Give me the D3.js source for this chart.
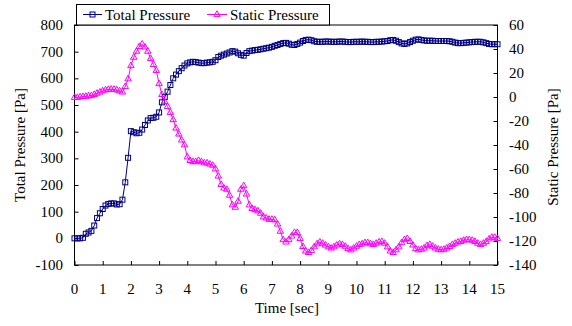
<!DOCTYPE html>
<html>
<head>
<meta charset="utf-8">
<script src="https://cdn.jsdelivr.net/npm/d3@7"></script>
<style>
  body { margin: 0; background: #fff; }
  svg text { font-family: "Liberation Serif", "Times New Roman", Times, serif; font-size: 15px; fill: #000; }
</style>
</head>
<body>
<div class="viz"></div>
<script>
// samples every 0.1 s from 0 to 15 s
const timeStep = 0.1;

const totalPressure = [
  0, 0, 0, 2, 17, 22, 28, 48, 76, 94,
  110, 123, 129, 131, 131, 127, 128, 145, 210, 302,
  402, 398, 394, 396, 408, 425, 442, 451, 452, 456,
  472, 510, 530, 550, 575, 600, 614, 627, 638, 648,
  656, 660, 662, 661, 659, 657, 657, 659, 660, 662,
  668, 680, 685, 689, 693, 697, 702, 700, 694, 688,
  685, 695, 702, 704, 706, 707, 709, 711, 713, 715,
  718, 722, 725, 729, 732, 733, 730, 726, 725, 729,
  734, 740, 744, 745, 743, 739, 737, 737, 737, 738,
  738, 737, 737, 737, 738, 738, 737, 736, 736, 737,
  737, 737, 738, 737, 737, 736, 736, 737, 737, 738,
  739, 740, 743, 744, 741, 736, 731, 729, 731, 736,
  741, 745, 746, 744, 742, 741, 741, 741, 740, 740,
  740, 740, 740, 739, 737, 734, 732, 732, 733, 734,
  735, 736, 737, 737, 737, 735, 732, 729, 728, 728,
  728
];

const staticPressure = [
  -0.5, -0.5, 0, 0.3, 0.5, 0.8, 1, 2, 3, 4,
  5, 5.8, 6.2, 6.4, 6.3, 5.8, 5, 4, 8.6, 15,
  26, 33, 38, 42, 44, 41.5, 38, 32, 27, 22,
  11, 2, -4, -8, -13, -19, -26, -31, -36, -40,
  -50, -53, -54, -54, -53, -54, -55, -55, -56, -57,
  -60, -66, -73, -76, -77, -82, -90, -92, -87, -77,
  -74, -81, -90, -93, -94, -95, -97, -100, -101, -102,
  -102, -102.5, -106, -112, -119, -121, -119, -116, -113, -113,
  -118, -124.7, -128.5, -129.7, -128, -125, -122.5, -121, -122, -123.5,
  -125, -126, -125, -123.5, -122.5, -123, -124.5, -126.5, -127.5, -126,
  -124.5, -123, -122.5, -121.5, -121.5, -122.5, -123, -122, -121, -120.6,
  -122, -125, -128.5, -129.7, -127.5, -125, -121.5, -119, -118, -120.5,
  -123.5, -126.5, -127.5, -127, -126, -124, -123, -124.5, -126, -127,
  -127.5, -127, -126, -124.7, -123, -122, -121, -120.5, -119.5, -119,
  -119, -119.5, -120.5, -122, -123, -122, -120.6, -118.5, -117, -117,
  -118
];

const xTicks = d3.range(0, 16);
const leftTicks = [-100, 0, 100, 200, 300, 400, 500, 600, 700, 800];
const rightTicks = [-140, -120, -100, -80, -60, -40, -20, 0, 20, 40, 60];

const width = 572, height = 326;
const margin = { top: 25, right: 74.5, bottom: 61, left: 74.5 };
const innerW = width - margin.left - margin.right,
      innerH = height - margin.top - margin.bottom;

const svg = d3.select('.viz').append('svg')
    .attr('width', width)
    .attr('height', height);

const x = d3.scaleLinear().domain([0, 15]).range([margin.left, margin.left + innerW]);
const yL = d3.scaleLinear().domain([-100, 800]).range([margin.top + innerH, margin.top]);
const yR = d3.scaleLinear().domain([-140, 60]).range([margin.top + innerH, margin.top]);

// plot frame
svg.append('rect')
    .attr('x', margin.left)
    .attr('y', margin.top)
    .attr('width', innerW)
    .attr('height', innerH)
    .attr('fill', 'none')
    .attr('stroke', '#000')
    .attr('stroke-width', 1);

// axes, ticks pointing inward
const xAxis = svg.append('g')
    .attr('transform', 'translate(0,' + (margin.top + innerH) + ')')
    .call(d3.axisTop(x).tickValues(xTicks).tickSize(4).tickFormat(''));
xAxis.select('.domain').remove();

svg.append('g').selectAll('text')
    .data(xTicks)
    .enter().append('text')
    .attr('x', d => x(d))
    .attr('y', 294)
    .attr('text-anchor', 'middle')
    .text(d => d);

const leftAxis = svg.append('g')
    .attr('transform', 'translate(' + margin.left + ',0)')
    .call(d3.axisRight(yL).tickValues(leftTicks).tickSize(4).tickFormat(''));
leftAxis.select('.domain').remove();

svg.append('g').selectAll('text')
    .data(leftTicks)
    .enter().append('text')
    .attr('x', 63)
    .attr('y', d => yL(d) + 5)
    .attr('text-anchor', 'end')
    .text(d => d);

const rightAxis = svg.append('g')
    .attr('transform', 'translate(' + (margin.left + innerW) + ',0)')
    .call(d3.axisLeft(yR).tickValues(rightTicks).tickSize(4).tickFormat(''));
rightAxis.select('.domain').remove();

svg.append('g').selectAll('text')
    .data(rightTicks)
    .enter().append('text')
    .attr('x', 509)
    .attr('y', d => yR(d) + 5)
    .attr('text-anchor', 'start')
    .text(d => d);

svg.selectAll('.tick line').attr('stroke', '#000');

// axis titles
svg.append('text')
    .attr('transform', 'translate(25,145) rotate(-90)')
    .attr('text-anchor', 'middle')
    .text('Total Pressure [Pa]');

svg.append('text')
    .attr('transform', 'translate(558,147) rotate(-90)')
    .attr('text-anchor', 'middle')
    .text('Static Pressure [Pa]');

svg.append('text')
    .attr('x', 287)
    .attr('y', 313)
    .attr('text-anchor', 'middle')
    .text('Time [sec]');

// series
const totalColor = '#000080', staticColor = '#FF00FF';

const totalLine = d3.line()
    .x((d, i) => x(i * timeStep))
    .y(d => yL(d));

const staticLine = d3.line()
    .x((d, i) => x(i * timeStep))
    .y(d => yR(d));

const tri = d3.symbol().type(d3.symbolTriangle).size(18);

function drawTotal(){
    svg.append('path')
        .datum(totalPressure)
        .attr('d', totalLine)
        .attr('fill', 'none')
        .attr('stroke', totalColor)
        .attr('stroke-width', 1);

    svg.append('g').selectAll('rect')
        .data(totalPressure)
        .enter().append('rect')
        .attr('x', (d, i) => x(i * timeStep) - 2.5)
        .attr('y', d => yL(d) - 2.5)
        .attr('width', 5)
        .attr('height', 5)
        .attr('fill', 'none')
        .attr('stroke', totalColor)
        .attr('stroke-width', 1);
}

function drawStatic(){
    svg.append('path')
        .datum(staticPressure)
        .attr('d', staticLine)
        .attr('fill', 'none')
        .attr('stroke', staticColor)
        .attr('stroke-width', 1);

    svg.append('g').selectAll('path')
        .data(staticPressure)
        .enter().append('path')
        .attr('d', tri)
        .attr('transform', (d, i) => 'translate(' + x(i * timeStep) + ',' + yR(d) + ')')
        .attr('fill', 'none')
        .attr('stroke', staticColor)
        .attr('stroke-width', 1);
}

drawTotal();
drawStatic();

// legend
const legend = svg.append('g');
legend.append('rect')
    .attr('x', 76.5)
    .attr('y', 4.5)
    .attr('width', 253)
    .attr('height', 20.5)
    .attr('fill', '#fff')
    .attr('stroke', '#000')
    .attr('stroke-width', 1);

legend.append('line')
    .attr('x1', 83).attr('x2', 102).attr('y1', 14.5).attr('y2', 14.5)
    .attr('stroke', totalColor);
legend.append('rect')
    .attr('x', 90).attr('y', 12).attr('width', 5).attr('height', 5)
    .attr('fill', 'none').attr('stroke', totalColor);
legend.append('text')
    .attr('x', 105).attr('y', 20)
    .text('Total Pressure');

legend.append('line')
    .attr('x1', 207).attr('x2', 227).attr('y1', 14.5).attr('y2', 14.5)
    .attr('stroke', staticColor);
legend.append('path')
    .attr('d', tri)
    .attr('transform', 'translate(217,14.5)')
    .attr('fill', 'none').attr('stroke', staticColor);
legend.append('text')
    .attr('x', 230).attr('y', 20)
    .text('Static Pressure');
</script>
</body>
</html>
